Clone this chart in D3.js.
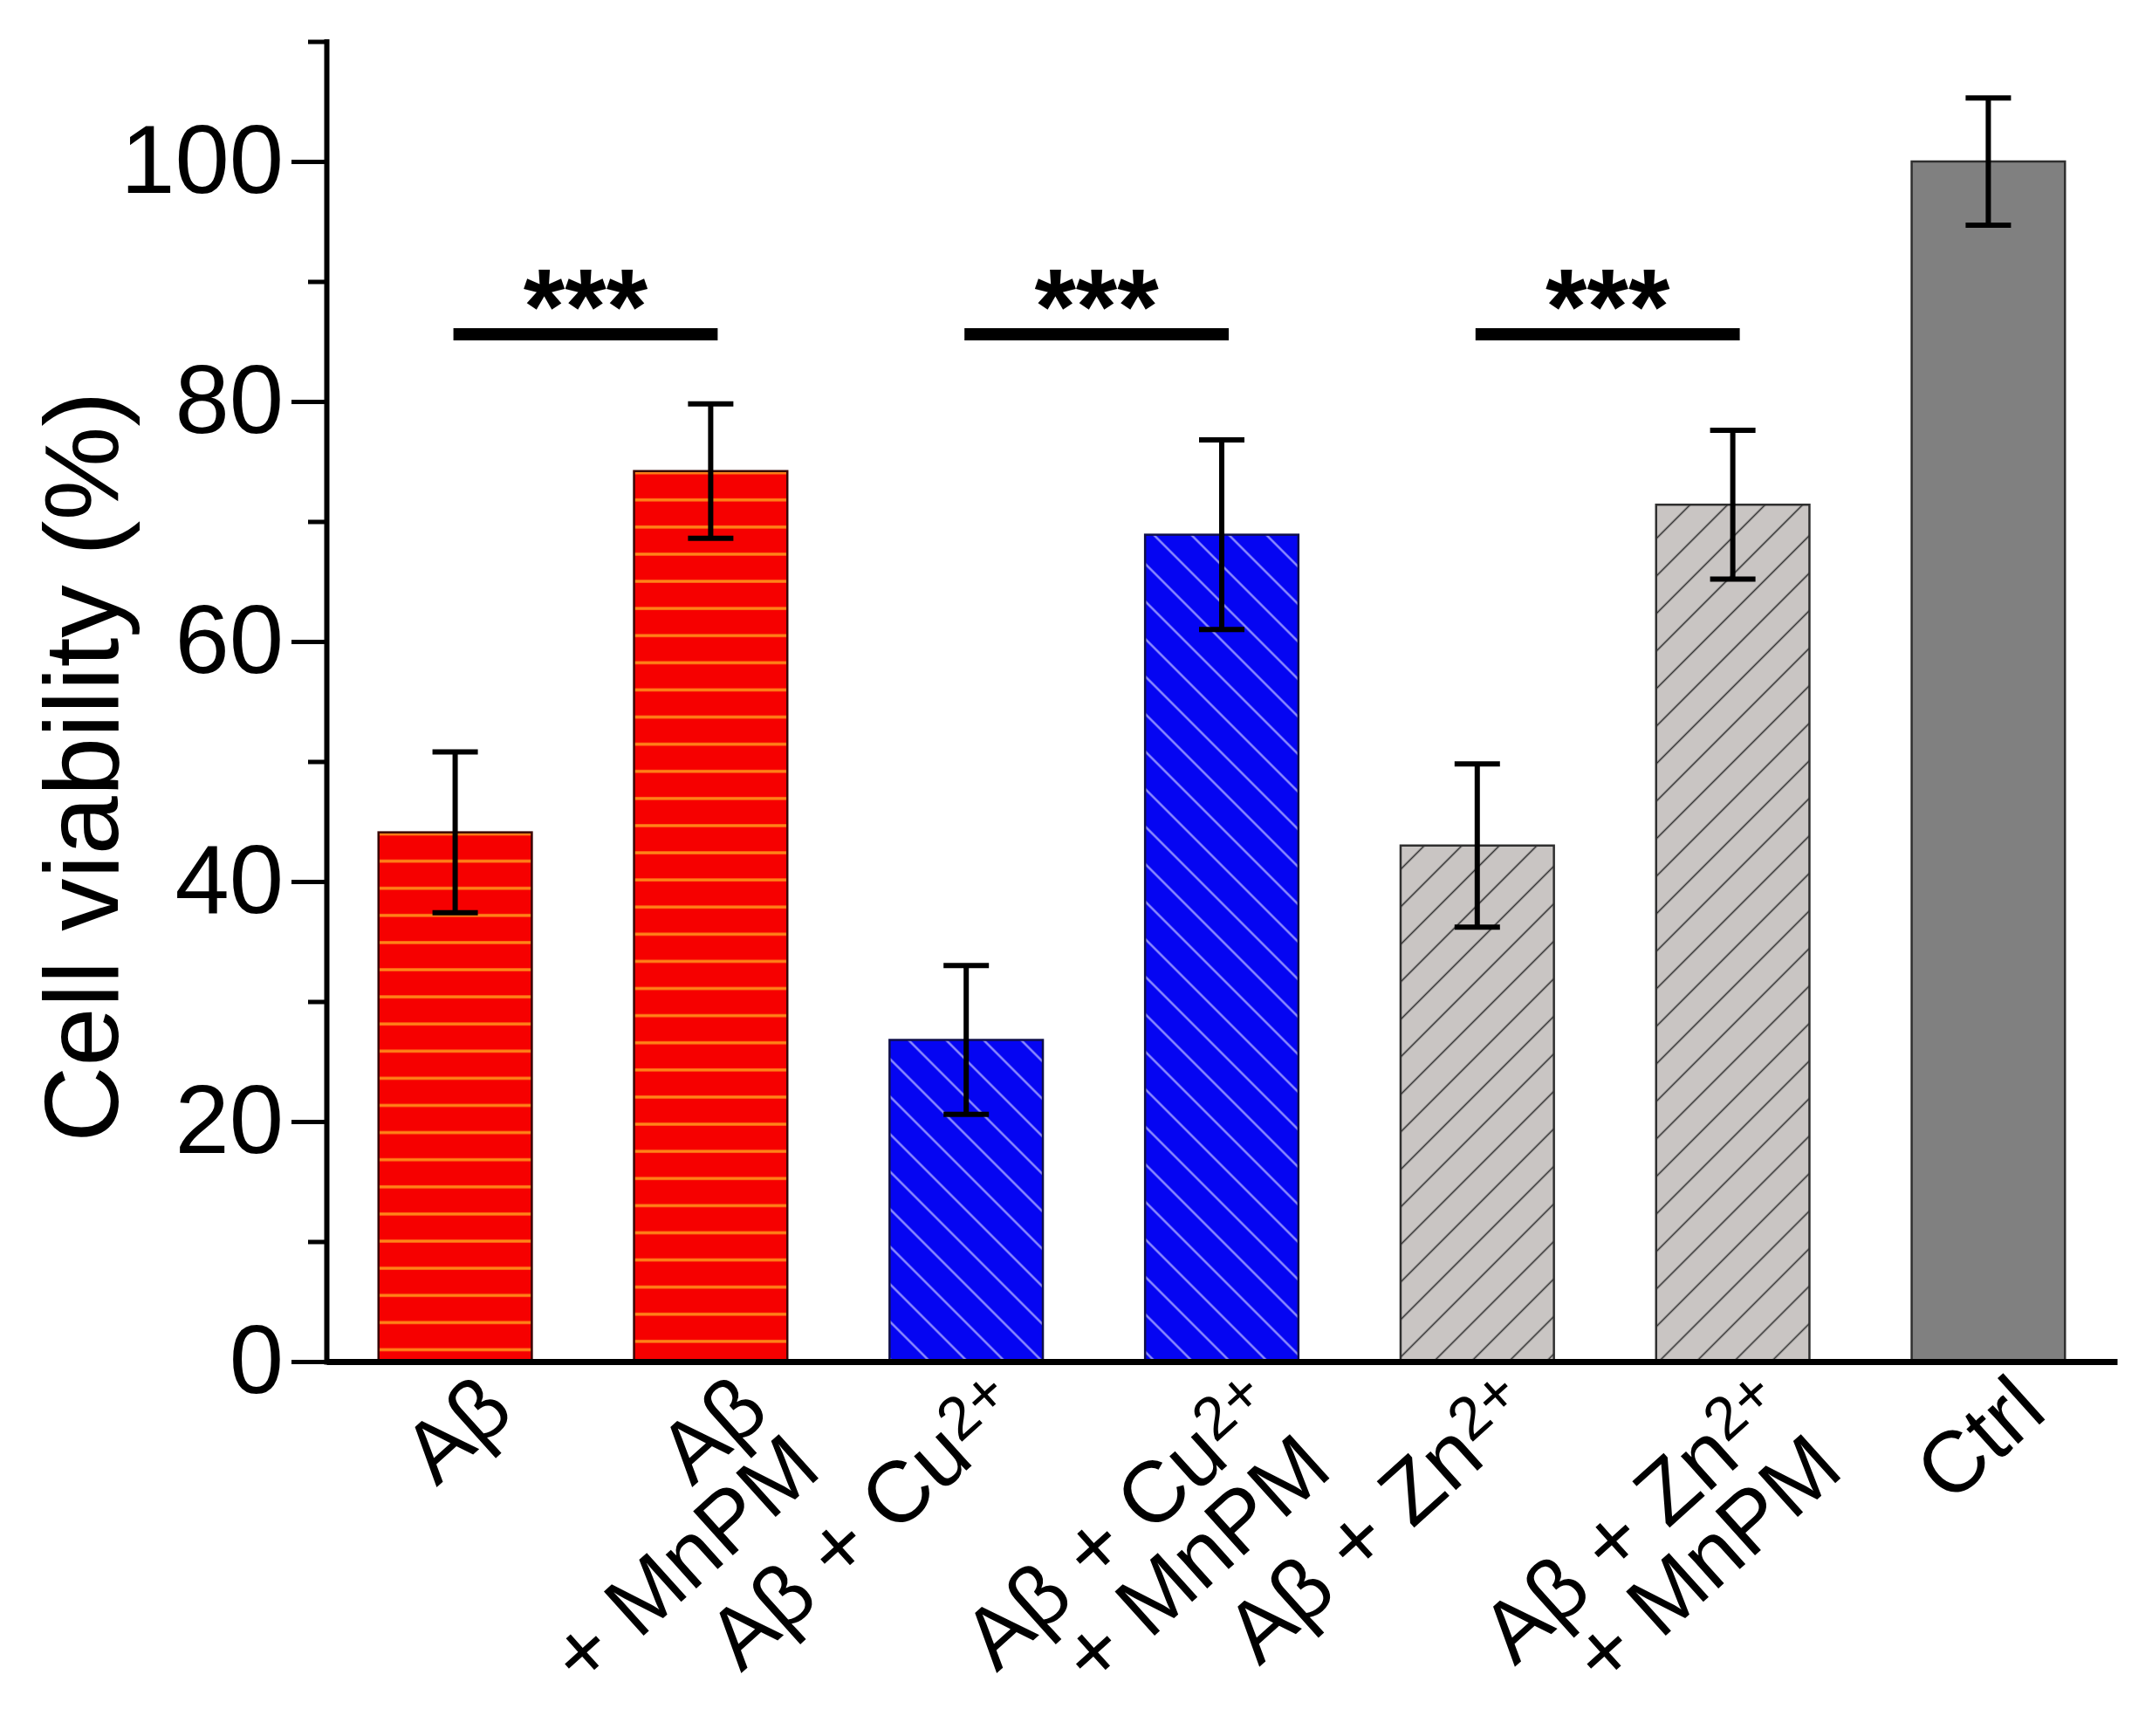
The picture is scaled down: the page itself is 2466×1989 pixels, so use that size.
<!DOCTYPE html>
<html>
<head>
<meta charset="utf-8">
<script src="https://cdn.jsdelivr.net/npm/d3@7"></script>
<style>
  body { margin: 0; background: #fff; }
  svg { display: block; font-family: "Liberation Sans", Arial, Helvetica, sans-serif; }
</style>
</head>
<body>
<svg id="chart" width="2466" height="1989"></svg>
<script>
// each x label is a list of lines, a line is [text, superscript]
var groupLabels = [
	[["Aβ", ""]],
	[["Aβ", ""], ["+ MnPM", ""]],
	[["Aβ + Cu", "2+"]],
	[["Aβ + Cu", "2+"], ["+ MnPM", ""]],
	[["Aβ + Zn", "2+"]],
	[["Aβ + Zn", "2+"], ["+ MnPM", ""]],
	[["Ctrl", ""]]
];
var viability = [44.1, 74.2, 26.8, 68.9, 43.0, 71.4, 100.0];
var viabilityErr = [6.7, 5.6, 6.2, 7.9, 6.8, 6.2, 5.3];
var majorTicks = [0, 20, 40, 60, 80, 100];
var minorTicks = [10, 30, 50, 70, 90, 110];
var sigPairs = [[0, 1], [2, 3], [4, 5]];
var sigLevel = 85.6;
var sigLabel = "***";
var yTitle = "Cell viability (%)";

// fill kind per group (stripes / hatch / solid)
var barKind = ["red", "red", "blue", "blue", "grey", "grey", "ctrl"];

var svg = d3.select("#chart");
var x0 = 374, x1 = 2426, yBottom = 1560, yTop = 47.5;

var xScale = d3.scaleBand()
	.domain(d3.range(groupLabels.length))
	.range([x0, x1])
	.paddingInner(0.4)
	.paddingOuter(0.204);

var yScale = d3.scaleLinear()
	.domain([0, 110])
	.range([yBottom, yTop]);

var defs = svg.append("defs");

// horizontal orange stripes, one pattern per red bar so they start from the bar top
var stripeGap = 31.1;
[0, 1].forEach(function(i){
	var p = defs.append("pattern")
		.attr("id", "stripes" + i)
		.attr("patternUnits", "userSpaceOnUse")
		.attr("width", 400)
		.attr("height", stripeGap)
		.attr("y", yScale(viability[i]) + 33 - stripeGap / 2);
	p.append("rect").attr("width", 400).attr("height", stripeGap).attr("fill", "#f60000");
	p.append("line")
		.attr("x1", 0).attr("x2", 400)
		.attr("y1", stripeGap / 2).attr("y2", stripeGap / 2)
		.attr("stroke", "#ff8418").attr("stroke-width", 3.4);
});

function hatch(id, bg, lineColor, lineWidth, angle){
	var s = 30.4;
	var p = defs.append("pattern")
		.attr("id", id)
		.attr("patternUnits", "userSpaceOnUse")
		.attr("width", s).attr("height", s)
		.attr("patternTransform", "rotate(" + angle + ")");
	p.append("rect").attr("width", s).attr("height", s).attr("fill", bg);
	p.append("line")
		.attr("x1", s / 2).attr("x2", s / 2)
		.attr("y1", -1).attr("y2", s + 1)
		.attr("stroke", lineColor).attr("stroke-width", lineWidth);
}
hatch("blueHatch", "#0505f2", "#9c9cff", 2.2, -45);
hatch("greyHatch", "#c9c5c3", "#333333", 1.6, 45);

function barFill(d, i){
	if(barKind[i] == "red") return "url(#stripes" + i + ")";
	if(barKind[i] == "blue") return "url(#blueHatch)";
	if(barKind[i] == "grey") return "url(#greyHatch)";
	return "#808080";
}
function barStroke(d, i){
	if(barKind[i] == "red") return "#3a0505";
	if(barKind[i] == "blue") return "#10104a";
	return "#2f2f2f";
}

// bars
svg.append("g")
	.selectAll("rect")
	.data(viability)
	.enter()
	.append("rect")
	.attr("x", function(d, i){ return xScale(i); })
	.attr("y", function(d){ return yScale(d); })
	.attr("width", xScale.bandwidth())
	.attr("height", function(d){ return yScale(0) - yScale(d); })
	.attr("fill", barFill)
	.attr("stroke", barStroke)
	.attr("stroke-width", 2.5);

// error bars
var capW = 52;
var err = svg.append("g")
	.attr("stroke", "#000")
	.attr("stroke-width", 6)
	.selectAll("g")
	.data(viability)
	.enter()
	.append("g");
err.append("line")
	.attr("x1", function(d, i){ return xScale(i) + xScale.bandwidth() / 2; })
	.attr("x2", function(d, i){ return xScale(i) + xScale.bandwidth() / 2; })
	.attr("y1", function(d, i){ return yScale(d - viabilityErr[i]); })
	.attr("y2", function(d, i){ return yScale(d + viabilityErr[i]); });
[1, -1].forEach(function(sign){
	err.append("line")
		.attr("x1", function(d, i){ return xScale(i) + xScale.bandwidth() / 2 - capW / 2; })
		.attr("x2", function(d, i){ return xScale(i) + xScale.bandwidth() / 2 + capW / 2; })
		.attr("y1", function(d, i){ return yScale(d + sign * viabilityErr[i]); })
		.attr("y2", function(d, i){ return yScale(d + sign * viabilityErr[i]); });
});

// y axis, major + minor ticks
var yAxis = svg.append("g")
	.attr("transform", "translate(" + x0 + ",0)")
	.call(d3.axisLeft(yScale).tickValues(majorTicks).tickSize(40).tickSizeOuter(0).tickPadding(9));
yAxis.select(".domain").attr("stroke-width", 6).attr("stroke-linecap", "square");
yAxis.selectAll(".tick line").attr("stroke-width", 5);
yAxis.selectAll(".tick text")
	.style("font-size", "112px")
	.style("font-family", "'Liberation Sans', Arial, sans-serif")
	.attr("fill", "#000");

var yMinor = svg.append("g")
	.attr("transform", "translate(" + x0 + ",0)")
	.call(d3.axisLeft(yScale).tickValues(minorTicks).tickSize(21).tickFormat(""));
yMinor.select(".domain").remove();
yMinor.selectAll(".tick line").attr("stroke-width", 5);

// x axis, no ticks
var xAxis = svg.append("g")
	.attr("transform", "translate(0," + yBottom + ")")
	.call(d3.axisBottom(xScale).tickSize(0).tickSizeOuter(0).tickFormat(""));
xAxis.select(".domain").attr("stroke-width", 7);

// rotated group labels, lines right aligned
var labels = svg.append("g")
	.selectAll("text")
	.data(groupLabels)
	.enter()
	.append("text")
	.attr("transform", function(d, i){
		return "translate(" + (xScale(i) + xScale.bandwidth() / 2 + 70) + "," + (yBottom + 62) + ")rotate(-42)";
	})
	.attr("text-anchor", "end")
	.style("font-size", "99px")
	.attr("fill", "#000");

labels.each(function(lines){
	var t = d3.select(this);
	lines.forEach(function(line, k){
		var ts = t.append("tspan")
			.attr("x", 0)
			.attr("dy", k == 0 ? 0 : "0.9em")
			.text(line[0]);
		if(line[1]){
			ts.append("tspan")
				.attr("baseline-shift", "40%")
				.style("font-size", "70%")
				.text(line[1]);
		}
	});
});

// significance bars
var sig = svg.append("g");
sigPairs.forEach(function(p){
	var a = xScale(p[0]) + xScale.bandwidth() / 2;
	var b = xScale(p[1]) + xScale.bandwidth() / 2;
	sig.append("line")
		.attr("x1", a - 2).attr("x2", b + 8)
		.attr("y1", yScale(sigLevel)).attr("y2", yScale(sigLevel))
		.attr("stroke", "#000").attr("stroke-width", 14);
	sig.append("text")
		.attr("x", (a + b) / 2 + 3)
		.attr("y", yScale(sigLevel) + 10)
		.attr("text-anchor", "middle")
		.style("font-size", "122px")
		.style("font-weight", "bold")
		.text(sigLabel);
});

// y title
svg.append("text")
	.attr("transform", "translate(135," + ((yScale(0) + yScale(110)) / 2 + 75) + ")rotate(-90)")
	.attr("text-anchor", "middle")
	.style("font-size", "121px")
	.text(yTitle);
</script>
</body>
</html>
